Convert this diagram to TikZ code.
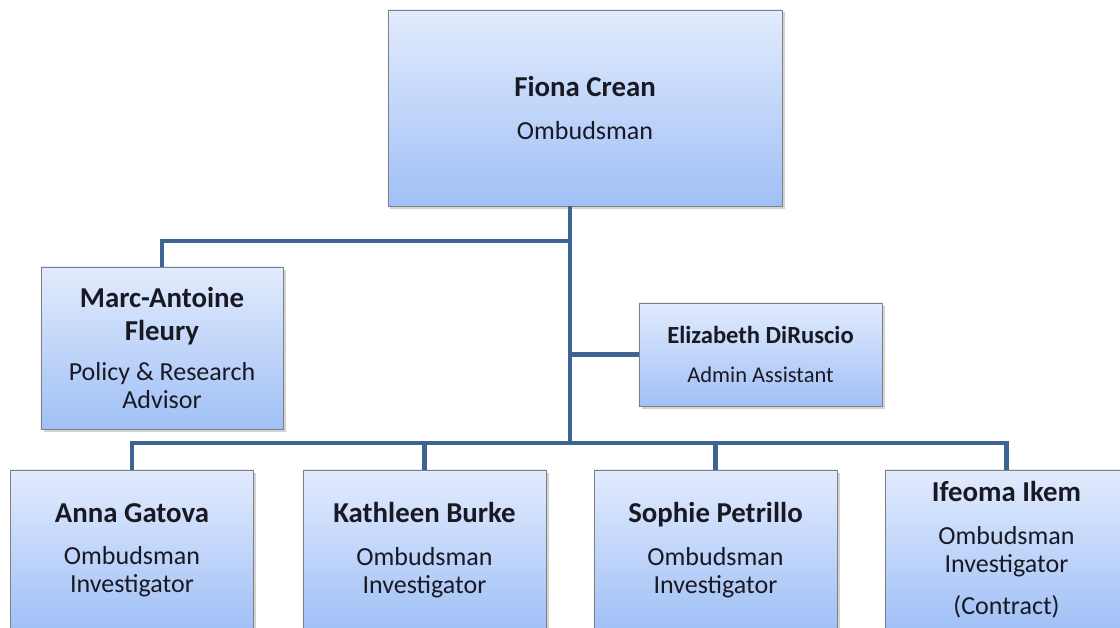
\documentclass[tikz,border=0pt]{standalone}
\usepackage{fontspec}
\setmainfont{Carlito}
\usetikzlibrary{shadows}

\definecolor{linkblue}{RGB}{62,100,150}
\definecolor{boxtop}{RGB}{226,235,253}
\definecolor{boxbottom}{RGB}{160,192,246}
\definecolor{boxline}{RGB}{128,128,128}
\definecolor{inktext}{RGB}{25,25,35}

\newcommand{\namefont}{\fontsize{20.5}{23.5}\selectfont\bfseries}
\newcommand{\rolefont}{\fontsize{18.5}{19.5}\selectfont}

\begin{document}
\begin{tikzpicture}[x=0.025cm, y=-0.025cm,
  staff/.style={draw=boxline, line width=0.6pt, top color=boxtop, bottom color=boxbottom,
    drop shadow={shadow xshift=1.8pt, shadow yshift=-1.8pt, opacity=0.35},
    align=center, inner sep=0pt, text=inktext, font=\rolefont},
  link/.style={draw=linkblue, line width=3.4pt}]

  \clip (0,0) rectangle (1120,628);

  % Ombudsman
  \node[staff, minimum width=9.85cm, minimum height=4.9cm] (crean) at (585,108)
    {{\namefont Fiona Crean}\\[11pt] Ombudsman};

  \node[staff, minimum width=6.05cm, minimum height=4.05cm] (fleury) at (162,348)
    {{\namefont Marc-Antoine}\\[4pt]{\namefont Fleury}\\[9pt] Policy \& Research\\ Advisor};

  \node[staff, minimum width=6.075cm, minimum height=2.575cm] (diruscio) at (760.5,354.5)
    {{\fontsize{17.5}{20}\selectfont\bfseries Elizabeth DiRuscio}\\[8pt]{\fontsize{16}{18}\selectfont Admin Assistant}};

  % investigators
  \foreach \id/\x/\who/\role in {gatova/132/Anna Gatova/{Ombudsman\\Investigator},
      burke/424.5/Kathleen Burke/{Ombudsman\\Investigator},
      petrillo/715.5/Sophie Petrillo/{Ombudsman\\Investigator},
      ikem/1006.5/Ifeoma Ikem/{Ombudsman\\Investigator\\[11pt](Contract)}} {
    \node[staff, minimum width=6.075cm, minimum height=4cm] (\id) at (\x,550)
      {{\namefont \who}\\[11pt]\role};
  }

  \coordinate (hub) at (570,443);
  \coordinate (advisorjoin) at (570,241);

  \draw[link] (crean.south -| hub) -- (hub);
  \draw[link] (advisorjoin) -| (fleury.north);
  \draw[link] (diruscio.west -| hub) -- (diruscio.west);
  \draw[link] (gatova.north) |- (ikem.north |- hub) -- (ikem.north);
  \draw[link] (burke.north) -- (burke.north |- hub);
  \draw[link] (petrillo.north) -- (petrillo.north |- hub);

\end{tikzpicture}
\end{document}
